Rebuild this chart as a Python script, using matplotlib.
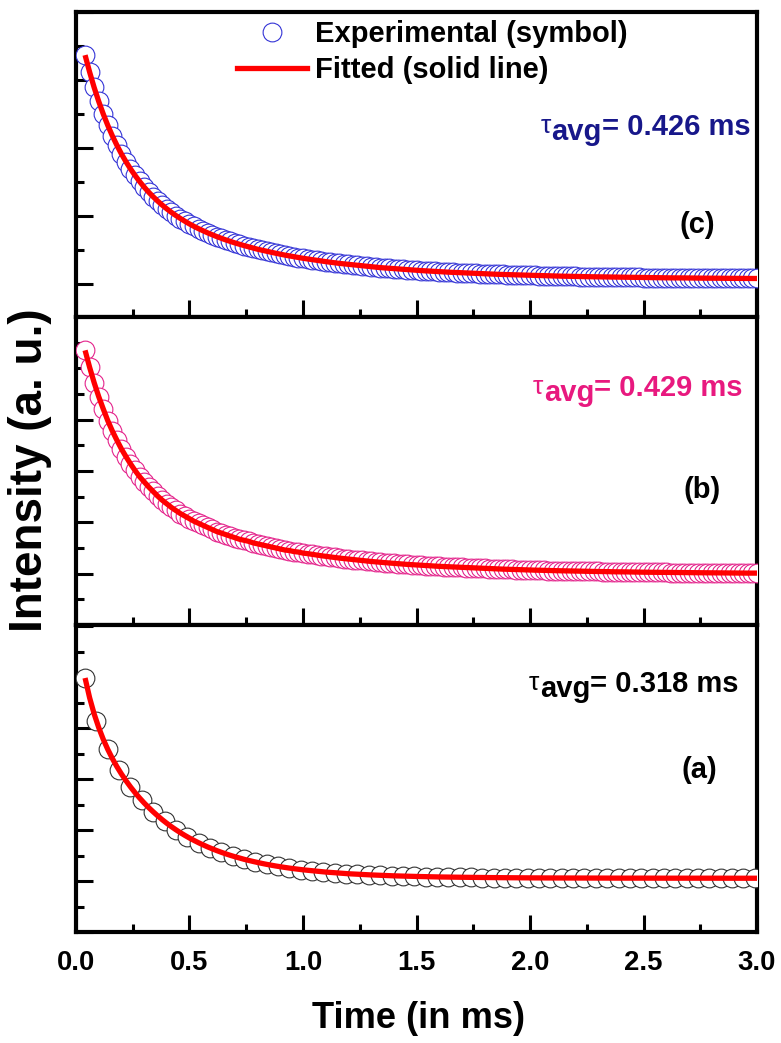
import numpy as np
import matplotlib
matplotlib.use("Agg")
import matplotlib.pyplot as plt
from matplotlib import font_manager
from matplotlib.lines import Line2D
from matplotlib.ticker import FormatStrFormatter, MultipleLocator

# sample times (ms)
t_dense = np.round(np.arange(0.04, 3.001, 0.02), 2)   # panels (b) and (c)
t_sparse = np.round(np.arange(0.04, 3.0, 0.05), 2)    # panel (a)
t_fit_a = np.round(np.r_[np.arange(0.04, 1.001, 0.02), np.arange(1.1, 3.001, 0.1)], 2)

# panel (c): experimental decay (a.u.), fit follows the same points
c_exp = [3.366, 3.117, 2.890, 2.686, 2.501, 2.333, 2.180, 2.041, 1.914, 1.799,
         1.693, 1.597, 1.508, 1.426, 1.351, 1.283, 1.219, 1.160, 1.105, 1.054,
         1.007, 0.963, 0.922, 0.883, 0.847, 0.813, 0.782, 0.752, 0.724, 0.697,
         0.672, 0.648, 0.626, 0.604, 0.584, 0.565, 0.547, 0.529, 0.511, 0.496,
         0.480, 0.465, 0.452, 0.438, 0.425, 0.413, 0.401, 0.389, 0.378, 0.368,
         0.358, 0.347, 0.338, 0.329, 0.320, 0.312, 0.303, 0.296, 0.289, 0.281,
         0.274, 0.267, 0.260, 0.253, 0.247, 0.241, 0.236, 0.230, 0.225, 0.220,
         0.215, 0.210, 0.206, 0.201, 0.197, 0.193, 0.189, 0.185, 0.181, 0.178,
         0.174, 0.171, 0.167, 0.164, 0.161, 0.158, 0.155, 0.153, 0.150, 0.147,
         0.145, 0.142, 0.140, 0.138, 0.135, 0.133, 0.131, 0.129, 0.127, 0.125,
         0.124, 0.122, 0.120, 0.118, 0.117, 0.115, 0.114, 0.112, 0.111, 0.110,
         0.108, 0.107, 0.106, 0.105, 0.104, 0.103, 0.101, 0.100, 0.100, 0.099,
         0.098, 0.097, 0.096, 0.095, 0.094, 0.093, 0.093, 0.092, 0.091, 0.090,
         0.090, 0.089, 0.089, 0.088, 0.087, 0.087, 0.086, 0.086, 0.085, 0.085,
         0.084, 0.084, 0.083, 0.083, 0.082, 0.082, 0.081, 0.081, 0.081]

# panel (b)
b_exp = [4.35, 4.02, 3.72, 3.45, 3.21, 2.98, 2.78, 2.60, 2.43, 2.28,
         2.14, 2.01, 1.89, 1.79, 1.69, 1.60, 1.51, 1.43, 1.36, 1.29,
         1.23, 1.17, 1.12, 1.07, 1.02, 0.98, 0.94, 0.90, 0.86, 0.82,
         0.79, 0.76, 0.73, 0.70, 0.67, 0.65, 0.63, 0.60, 0.58, 0.56,
         0.54, 0.52, 0.50, 0.48, 0.46, 0.45, 0.43, 0.42, 0.40, 0.39,
         0.376, 0.361, 0.349, 0.337, 0.326, 0.315, 0.303, 0.294, 0.285, 0.274,
         0.265, 0.256, 0.246, 0.237, 0.229, 0.221, 0.215, 0.207, 0.200, 0.193,
         0.187, 0.180, 0.175, 0.168, 0.163, 0.158, 0.153, 0.147, 0.142, 0.138,
         0.133, 0.129, 0.124, 0.120, 0.116, 0.112, 0.108, 0.105, 0.101, 0.097,
         0.094, 0.091, 0.088, 0.085, 0.081, 0.079, 0.076, 0.073, 0.071, 0.068,
         0.067, 0.064, 0.061, 0.059, 0.057, 0.055, 0.054, 0.051, 0.050, 0.048,
         0.046, 0.044, 0.043, 0.042, 0.040, 0.039, 0.036, 0.035, 0.035, 0.034,
         0.032, 0.031, 0.030, 0.028, 0.027, 0.026, 0.026, 0.024, 0.023, 0.022,
         0.022, 0.021, 0.021, 0.019, 0.018, 0.018, 0.017, 0.017, 0.015, 0.015,
         0.014, 0.014, 0.013, 0.013, 0.011, 0.011, 0.010, 0.010, 0.010]

# panel (a)
a_exp = [3.982, 3.138, 2.582, 2.172, 1.847, 1.580, 1.358, 1.168, 1.006, 0.868,
         0.751, 0.650, 0.564, 0.490, 0.427, 0.373, 0.327, 0.288, 0.254, 0.225,
         0.201, 0.180, 0.162, 0.146, 0.133, 0.122, 0.112, 0.104, 0.097, 0.091,
         0.085, 0.081, 0.077, 0.074, 0.071, 0.069, 0.067, 0.065, 0.064, 0.063,
         0.062, 0.061, 0.060, 0.059, 0.058, 0.058, 0.058, 0.057, 0.057, 0.057,
         0.056, 0.056, 0.056, 0.056, 0.056, 0.055, 0.055, 0.055, 0.055, 0.055]
a_fit = [3.982, 3.595, 3.277, 3.011, 2.781, 2.582, 2.405, 2.245, 2.101, 1.969,
         1.847, 1.734, 1.630, 1.532, 1.442, 1.358, 1.278, 1.203, 1.133, 1.067,
         1.006, 0.948, 0.894, 0.843, 0.796, 0.751, 0.709, 0.669, 0.632, 0.597,
         0.564, 0.533, 0.504, 0.477, 0.452, 0.427, 0.405, 0.384, 0.364, 0.345,
         0.327, 0.311, 0.295, 0.281, 0.267, 0.254, 0.242, 0.231, 0.220,
         0.176, 0.143, 0.120, 0.102, 0.090, 0.080, 0.074, 0.069, 0.065, 0.062,
         0.060, 0.059, 0.058, 0.057, 0.057, 0.056, 0.056, 0.056, 0.055, 0.055]

tau_values = ["0.318", "0.429", "0.426"]
panel_tags = ["(a)", "(b)", "(c)"]

SANS = "Liberation Sans"
installed = {f.name for f in font_manager.fontManager.ttflist}
if "Liberation Sans Narrow" in installed:
    NARROW, narrow_scale = "Liberation Sans Narrow", 1.0
else:
    NARROW, narrow_scale = "Liberation Sans", 0.9

plt.rcParams["font.family"] = [SANS, "DejaVu Sans"]

RED = "#ff0000"
BLUE = "#3434d6"
PINK = "#e4248c"
GREY = "#333333"


def style_axis(ax, ylim, show_labels):
    ax.set_xlim(0, 3.0)
    ax.set_ylim(*ylim)
    ax.xaxis.set_major_locator(MultipleLocator(0.5))
    ax.xaxis.set_minor_locator(MultipleLocator(0.25))
    ax.yaxis.set_major_locator(MultipleLocator(1))
    ax.yaxis.set_minor_locator(MultipleLocator(0.5))
    ax.tick_params(which="both", direction="in", top=False, right=False,
                   labelleft=False, labelbottom=show_labels, width=2.2, color="black")
    ax.tick_params(which="major", length=12, pad=13)
    ax.tick_params(which="minor", length=6)
    ax.xaxis.set_major_formatter(FormatStrFormatter("%.1f"))
    for label in ax.get_xticklabels():
        label.set_fontfamily(NARROW)
        label.set_fontweight("bold")
        label.set_fontsize(22 * narrow_scale)
    for spine in ax.spines.values():
        spine.set_linewidth(3)


def tau_label(ax, x, y, value, color):
    eq = ax.text(x, y, f"= {value} ms", transform=ax.transAxes, ha="left",
                 va="baseline", fontsize=21, fontweight="bold", color=color)
    sub = ax.annotate("avg", xy=(0, 0), xycoords=eq, xytext=(0, -3.6),
                      textcoords="offset points", ha="right", va="bottom",
                      fontsize=21, fontweight="bold", color=color)
    ax.annotate("\u03c4", xy=(0, 0), xycoords=sub, xytext=(-0.5, 5.5),
                textcoords="offset points", ha="right", va="bottom",
                fontsize=19, color=color)


fig = plt.figure(figsize=(7.81, 10.43), dpi=100)
ax_c = fig.add_axes([0.0973, 0.6961, 0.8720, 0.2924])
ax_b = fig.add_axes([0.0973, 0.4008, 0.8720, 0.2953])
ax_a = fig.add_axes([0.0973, 0.1064, 0.8720, 0.2943])

marker_kw = dict(ls="none", marker="o", ms=13.5, mfc="white", mew=0.8, zorder=3)
fit_kw = dict(color=RED, lw=3.8, zorder=4, solid_capstyle="butt")

# (c) top
ax_c.plot(t_dense, c_exp, mec=BLUE, **marker_kw)
ax_c.plot(t_dense, c_exp, **fit_kw)
style_axis(ax_c, (-0.485, 4.0), False)
tau_label(ax_c, 0.772, 0.597, tau_values[2], "#17178a")
ax_c.text(0.912, 0.302, panel_tags[2], transform=ax_c.transAxes, ha="center",
          va="center", fontsize=21, fontweight="bold")
handles = [
    Line2D([], [], ls="none", marker="o", ms=13.5, mfc="white", mec=BLUE, mew=0.8),
    Line2D([], [], color=RED, lw=3.8),
]
ax_c.legend(handles, ["Experimental (symbol)", "Fitted (solid line)"],
            loc="upper left", bbox_to_anchor=(0.236, 0.974), frameon=False,
            borderpad=0, borderaxespad=0, handlelength=2.4, handletextpad=0.3,
            labelspacing=0.27, numpoints=1,
            prop={"family": SANS, "weight": "bold", "size": 21})

# (b) middle
ax_b.plot(t_dense, b_exp, mec=PINK, **marker_kw)
ax_b.plot(t_dense, b_exp, **fit_kw)
style_axis(ax_b, (-1.0, 5.0), False)
tau_label(ax_b, 0.761, 0.7435, tau_values[1], "#e8197f")
ax_b.text(0.919, 0.438, panel_tags[1], transform=ax_b.transAxes, ha="center",
          va="center", fontsize=21, fontweight="bold")

# (a) bottom
ax_a.plot(t_sparse, a_exp, mec=GREY, **marker_kw)
ax_a.plot(t_fit_a, a_fit, **fit_kw)
style_axis(ax_a, (-1.0, 5.02), True)
tau_label(ax_a, 0.755, 0.782, tau_values[0], "black")
ax_a.text(0.916, 0.528, panel_tags[0], transform=ax_a.transAxes, ha="center",
          va="center", fontsize=21, fontweight="bold")

fig.text(419 / 781, 1 - 1018 / 1043, "Time (in ms)", ha="center", va="center",
         fontsize=29 * narrow_scale, fontweight="bold", family=NARROW)
fig.text(30 / 781, 1 - 470 / 1043, "Intensity (a. u.)", ha="center", va="center",
         rotation=90, fontsize=33, fontweight="bold", family=SANS)

fig.savefig("out.png", dpi=100)
